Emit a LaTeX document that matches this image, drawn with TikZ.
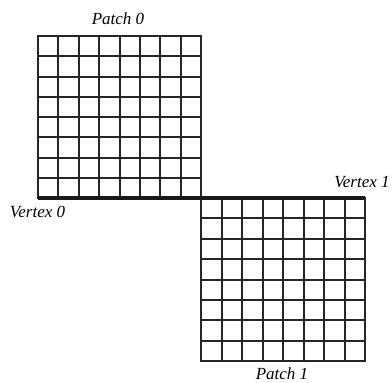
\documentclass[tikz,border=0pt]{standalone}
\usepackage{fontspec}
\setmainfont{Liberation Serif}
\usetikzlibrary{positioning}
\tikzset{
  gridline/.style={line width=2pt, draw=black!85, line cap=rect},
  seam/.style={line width=4.5pt, draw=black!90},
  lbl/.style={font=\fontsize{17}{20}\selectfont\itshape, inner sep=0pt}
}
\begin{document}
\begin{tikzpicture}[x=1pt,y=-1pt]
\useasboundingbox (0,0) rectangle (392,383);
% patch 0 (upper left)
\foreach \k in {0,1,2,3,4,5,6,7,8} {
  \pgfmathsetmacro{\px}{round(38+\k*20.375)}
  \pgfmathsetmacro{\py}{round(36+\k*20.25)}
  \draw[gridline] (\px,36) -- (\px,198);
  \draw[gridline] (38,\py) -- (201,\py);
}
% patch 1 (lower right)
\foreach \k in {0,1,2,3,4,5,6,7,8} {
  \pgfmathsetmacro{\qx}{round(201+\k*20.5)}
  \pgfmathsetmacro{\qy}{round(198+\k*20.375)}
  \draw[gridline] (\qx,198) -- (\qx,361);
  \draw[gridline] (201,\qy) -- (365,\qy);
}
% shared edge
\coordinate (v0) at (38,198);
\coordinate (v1) at (365,198);
\draw[seam] (v0) -- (v1);
\node[lbl] (patch0) at (118,19) {Patch 0};
\node[lbl] (patch1) at (282,374) {Patch 1};
\node[lbl] (vert0) at (37.5,212) {Vertex 0};
\node[lbl] (vert1) at (362,182) {Vertex 1};
\end{tikzpicture}
\end{document}
